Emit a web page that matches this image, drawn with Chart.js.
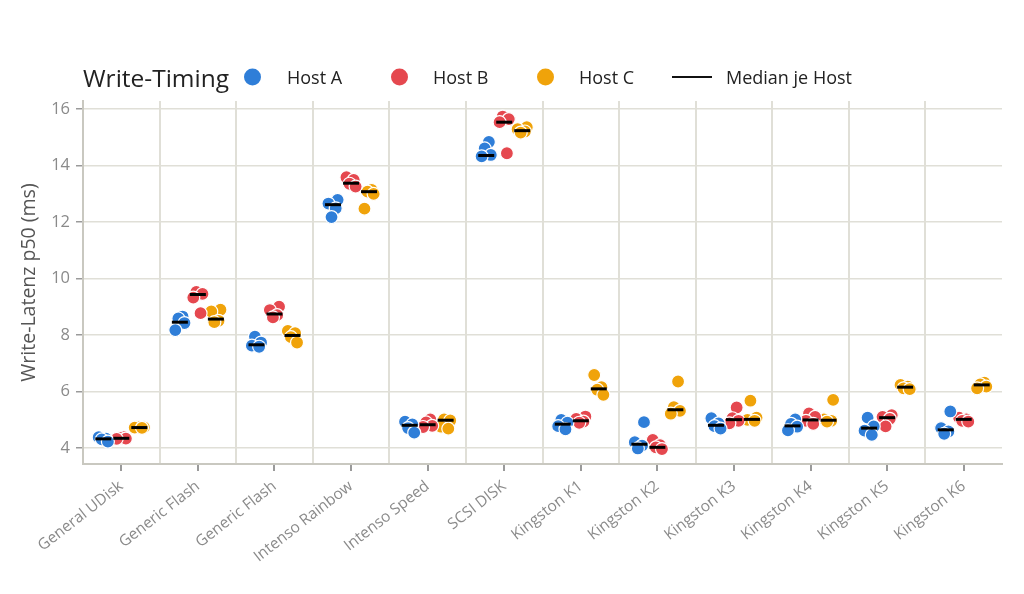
<!DOCTYPE html>
<html lang="de">
<head>
<meta charset="utf-8">
<title>Write-Timing</title>
<script src="https://cdn.jsdelivr.net/npm/chart.js@4/dist/chart.umd.min.js"></script>
<style>
  body { margin: 0; background: #fff; font-family: "Open Sans", sans-serif; }
  #wrap { position: relative; width: 1024px; height: 594px; }
  #legend { position: absolute; left: 0; top: 0; width: 1024px; height: 100px; color: #222; }
  #legend > * { position: absolute; top: 77px; transform: translateY(-50%); white-space: nowrap; }
  #legend .title { font-size: 24.5px; }
  #legend .dot { width: 17px; height: 17px; border-radius: 50%; }
  #legend .line { width: 40px; height: 2px; background: #111; }
  #legend .lbl { font-size: 18px; }
</style>
</head>
<body>
<div id="wrap">
  <canvas id="chartCanvas" width="1024" height="594"></canvas>
  <div id="legend"></div>
</div>
<script>
// --- Data ---
const categories = ["General UDisk", "Generic Flash", "Generic Flash", "Intenso Rainbow", "Intenso Speed",
  "SCSI DISK", "Kingston K1", "Kingston K2", "Kingston K3", "Kingston K4", "Kingston K5", "Kingston K6"];

const hosts = ["Host A", "Host B", "Host C"];

// p50 write latency per run (ms), one inner array per device
const hostA = [
  [4.38, 4.33, 4.30, 4.22], [8.65, 8.58, 8.42, 8.17], [7.94, 7.73, 7.62, 7.58], [12.78, 12.65, 12.48, 12.17],
  [4.93, 4.83, 4.70, 4.54], [14.83, 14.60, 14.37, 14.32], [4.99, 4.89, 4.77, 4.66], [4.91, 4.20, 4.08, 3.98],
  [5.05, 4.87, 4.77, 4.68], [5.01, 4.85, 4.75, 4.62], [5.07, 4.76, 4.61, 4.46], [5.29, 4.70, 4.58, 4.50]
];
const hostB = [
  [4.38, 4.35, 4.33, 4.32], [9.52, 9.45, 9.32, 8.77], [9.00, 8.88, 8.70, 8.62], [13.58, 13.49, 13.35, 13.25],
  [5.01, 4.90, 4.78, 4.74], [15.73, 15.64, 15.53, 14.43], [5.11, 5.03, 4.93, 4.89], [4.28, 4.10, 4.02, 3.96],
  [5.43, 5.05, 4.96, 4.87], [5.22, 5.10, 4.96, 4.85], [5.16, 5.10, 5.03, 4.76], [5.07, 5.01, 4.96, 4.93]
];
const hostC = [
  [4.74, 4.73, 4.72, 4.71], [8.89, 8.83, 8.50, 8.45], [8.14, 8.06, 7.92, 7.73], [13.13, 13.07, 12.99, 12.47],
  [5.01, 4.97, 4.75, 4.68], [15.35, 15.28, 15.20, 15.16], [6.58, 6.15, 6.06, 5.88], [6.35, 5.44, 5.31, 5.21],
  [5.67, 5.07, 4.99, 4.96], [5.70, 5.01, 4.96, 4.93], [6.23, 6.17, 6.11, 6.08], [6.31, 6.25, 6.17, 6.11]
];

// median per host and device
const medianA = [4.32, 8.45, 7.65, 12.61, 4.80, 14.35, 4.84, 4.13, 4.80, 4.78, 4.70, 4.64];
const medianB = [4.34, 9.43, 8.74, 13.37, 4.82, 15.53, 4.96, 4.02, 5.00, 4.99, 5.07, 5.01];
const medianC = [4.72, 8.56, 7.98, 13.07, 4.98, 15.23, 6.09, 5.35, 5.01, 4.98, 6.15, 6.23];

const yTicks = [4, 6, 8, 10, 12, 14, 16];

// --- Look ---
const COLORS = ["#2f7ed8", "#e5484f", "#f0a30a"];
const HOST_SHIFT = [-0.235, 0, 0.235];      // dodge within a device slot
const JITTER = [-0.06, 0.035, -0.02, 0.06]; // fixed strip jitter
const GRID = "#e0dfd7";
const AXIS = "#c9c8c0";
const TICK_TEXT = "#8a8a8a";

// --- Legend (html, so the title can sit on the same row) ---
const legend = document.getElementById("legend");
function addEl(cls, left, text, color) {
  const el = document.createElement("div");
  el.className = cls;
  el.style.left = left + "px";
  if (text) el.textContent = text;
  if (color) el.style.background = color;
  legend.appendChild(el);
}
addEl("title", 83, "Write-Timing");
[[244, 287], [391, 433], [537, 579]].forEach(([d, t], i) => {
  addEl("dot", d, null, COLORS[i]);
  addEl("lbl", t, hosts[i]);
});
addEl("line", 672);
addEl("lbl", 726, "Median je Host");

// --- Datasets ---
function stripDataset(label, values, h) {
  const data = [];
  values.forEach((runs, cat) => {
    runs.forEach((v, j) => data.push({ x: cat + HOST_SHIFT[h] + JITTER[(j + cat + h) % 4], y: v }));
  });
  return {
    label,
    data,
    backgroundColor: COLORS[h],
    borderColor: "#ffffff",
    borderWidth: 1.2,
    pointRadius: 6.5,
    pointHoverRadius: 6.5
  };
}

function medianDataset(medians) {
  const data = [];
  medians.forEach((m, h) => m.forEach((v, cat) => data.push({ x: cat + HOST_SHIFT[h], y: v })));
  return {
    label: "Median je Host",
    data,
    order: -1,
    pointStyle: "line",
    pointRadius: 8,
    pointHoverRadius: 8,
    borderColor: "#000",
    borderWidth: 3
  };
}

const isWhole = v => Math.abs(v - Math.round(v)) < 1e-6;

new Chart(document.getElementById("chartCanvas"), {
  type: "scatter",
  data: {
    datasets: [
      stripDataset(hosts[0], hostA, 0),
      stripDataset(hosts[1], hostB, 1),
      stripDataset(hosts[2], hostC, 2),
      medianDataset([medianA, medianB, medianC])
    ]
  },
  options: {
    responsive: false,
    animation: false,
    layout: { padding: { top: 101, right: 22, left: 0, bottom: 0 } },
    plugins: { legend: { display: false }, tooltip: { enabled: false } },
    scales: {
      x: {
        type: "linear",
        min: -0.5,
        max: categories.length - 0.5,
        afterBuildTicks: s => {
          s.ticks = [];
          for (let i = -0.5; i <= categories.length - 0.5; i += 0.5) s.ticks.push({ value: i });
        },
        afterFit: s => { s.height = 130; },
        ticks: {
          autoSkip: false,
          maxRotation: 38,
          minRotation: 38,
          padding: 6,
          color: TICK_TEXT,
          font: { family: "Open Sans", size: 15.5 },
          callback: v => isWhole(v) ? categories[Math.round(v)] : ""
        },
        grid: {
          color: c => (c.tick && !isWhole(c.tick.value) && c.tick.value > 0 && c.tick.value < categories.length - 1)
            ? GRID : "transparent",
          lineWidth: 2,
          tickLength: 7,
          tickColor: c => (c.tick && isWhole(c.tick.value)) ? "#9a9a9a" : "transparent"
        },
        border: { color: AXIS, width: 2 }
      },
      y: {
        min: 3.43,
        max: 16.28,
        afterBuildTicks: s => { s.ticks = yTicks.map(v => ({ value: v })); },
        afterFit: s => { s.width = 83; },
        ticks: {
          padding: 6,
          color: TICK_TEXT,
          font: { family: "Open Sans", size: 16.5 }
        },
        grid: { color: GRID, lineWidth: 1.5, tickLength: 7, tickColor: "#9a9a9a" },
        border: { color: AXIS, width: 2 },
        title: {
          display: true,
          text: "Write-Latenz p50 (ms)",
          color: "#555",
          font: { family: "Open Sans", size: 19.5 },
          padding: { top: 18, bottom: 0 }
        }
      }
    }
  }
});
</script>
</body>
</html>
